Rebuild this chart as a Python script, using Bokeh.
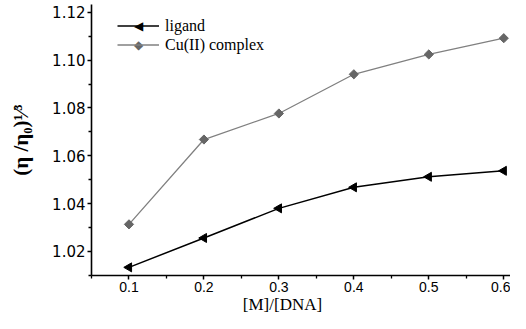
import numpy as np
from bokeh.plotting import figure
from bokeh.models import FixedTicker, Range1d, Legend, LegendItem, Label
from bokeh.embed import file_html
from bokeh.resources import INLINE

ratio = [0.1, 0.2, 0.3, 0.4, 0.5, 0.6]
ligand = [1.0133, 1.0256, 1.0380, 1.0468, 1.0512, 1.0537]
cu_complex = [1.0313, 1.0668, 1.0777, 1.0941, 1.1024, 1.1092]

x_ticks = [0.1, 0.2, 0.3, 0.4, 0.5, 0.6]
x_minor = [0.05, 0.15, 0.25, 0.35, 0.45, 0.55]
y_ticks = [1.02, 1.04, 1.06, 1.08, 1.10, 1.12]
y_minor = [1.01, 1.03, 1.05, 1.07, 1.09, 1.11]

p = figure(width=510, height=313, output_backend="svg", toolbar_location=None,
           x_range=Range1d(0.05, 0.609), y_range=Range1d(1.0099, 1.1233),
           min_border_left=91, min_border_top=4, min_border_bottom=36, min_border_right=0)
p.outline_line_color = None
p.grid.visible = False
p.background_fill_color = "white"

l1 = p.line(ratio, ligand, line_color="black", line_width=1.5)
m1 = p.scatter(ratio, ligand, marker="triangle", angle=np.pi / 2, size=9,
               fill_color="black", line_color="black")
l2 = p.line(ratio, cu_complex, line_color="#808080", line_width=1.3)
m2 = p.scatter(ratio, cu_complex, marker="square", angle=np.pi / 4, size=6.5,
               fill_color="#666666", line_color="#666666")

legend = Legend(items=[LegendItem(label="ligand", renderers=[l1]),
                       LegendItem(label="Cu(II) complex", renderers=[l2])],
                location=(26, 221), border_line_color=None, background_fill_alpha=0,
                padding=0, margin=0, spacing=0, glyph_width=42, glyph_height=19,
                label_height=19, label_standoff=6,
                label_text_font="Liberation Serif", label_text_font_size="16px",
                label_text_color="black")
p.add_layout(legend)
# legend marker symbols drawn over the legend line samples
p.add_layout(Label(x=47, y=250, x_units="screen", y_units="screen", text="◀",
                   text_align="center", text_baseline="middle",
                   text_font="DejaVu Sans", text_font_size="12px", text_color="black"))
p.add_layout(Label(x=47, y=231, x_units="screen", y_units="screen", text="◆",
                   text_align="center", text_baseline="middle",
                   text_font="DejaVu Sans", text_font_size="12px", text_color="#666666"))

for ax in (p.xaxis, p.yaxis):
    ax.axis_line_width = 1.6
    ax.axis_line_color = "black"
    ax.major_tick_line_width = 1.5
    ax.minor_tick_line_width = 1.3
    ax.major_tick_in = 0
    ax.major_tick_out = 4
    ax.minor_tick_in = 0
    ax.minor_tick_out = 3
    ax.major_label_text_color = "black"
    ax.axis_label_text_color = "black"

p.xaxis.ticker = FixedTicker(ticks=x_ticks, minor_ticks=x_minor)
p.yaxis.ticker = FixedTicker(ticks=y_ticks, minor_ticks=y_minor)
p.xaxis.major_label_overrides = {t: f"{t:.1f}" for t in x_ticks}
p.yaxis.major_label_overrides = {t: f"{t:.2f}" for t in y_ticks}

p.xaxis.major_label_text_font = "Liberation Sans"
p.xaxis.major_label_text_font_size = "14px"
p.xaxis.major_label_standoff = 2
p.yaxis.major_label_text_font = "DejaVu Sans"
p.yaxis.major_label_text_font_size = "15px"
p.yaxis.major_label_standoff = 2

xlabel = Label(x=191, y=0, x_units="screen", y_units="screen", text="[M]/[DNA]",
               text_align="center", text_baseline="bottom",
               text_font="Liberation Serif", text_font_size="17px", text_color="black")
p.add_layout(xlabel, "below")

p.yaxis.axis_label = "(η /η₀)¹⁄³"
p.yaxis.axis_label_text_font = "Liberation Serif"
p.yaxis.axis_label_text_font_style = "bold"
p.yaxis.axis_label_text_font_size = "21px"
p.yaxis.axis_label_standoff = 16

open("out.html", "w").write(file_html(p, INLINE))
